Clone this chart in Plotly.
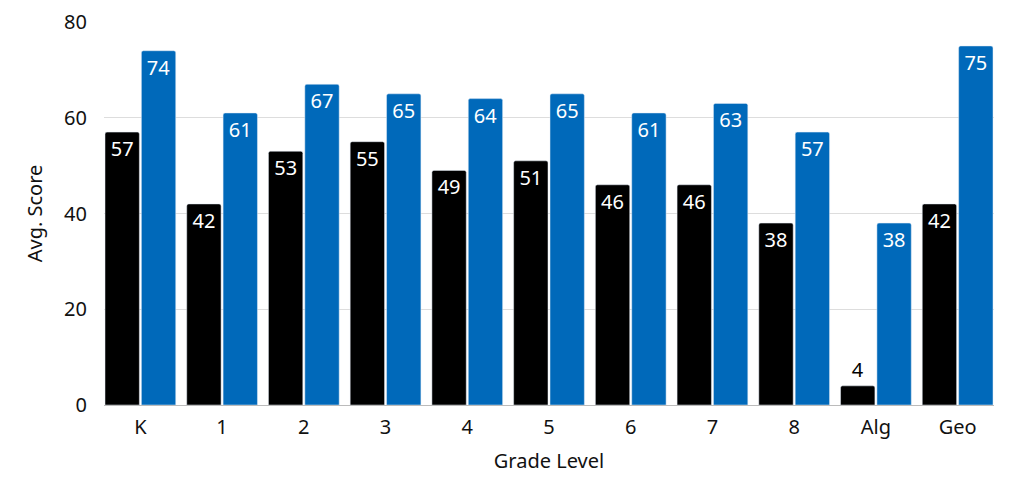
import plotly.graph_objects as go

grades = ["K", "1", "2", "3", "4", "5", "6", "7", "8", "Alg", "Geo"]
score_a = [57, 42, 53, 55, 49, 51, 46, 46, 38, 4, 42]
score_b = [74, 61, 67, 65, 64, 65, 61, 63, 57, 38, 75]

font_name = "Noto Sans"
fsize = 20


def label_pos(vals):
    return ["outside" if v < 10 else "inside" for v in vals]


fig = go.Figure()
fig.add_trace(go.Bar(
    x=grades, y=score_a, name="A",
    marker=dict(color="#000000"),
    text=score_a, textposition=label_pos(score_a),
    insidetextanchor="end",
    insidetextfont=dict(color="white", size=fsize, family=font_name),
    outsidetextfont=dict(color="black", size=fsize, family=font_name),
))
fig.add_trace(go.Bar(
    x=grades, y=score_b, name="B",
    marker=dict(color="#0069BA"),
    text=score_b, textposition=label_pos(score_b),
    insidetextanchor="end",
    insidetextfont=dict(color="white", size=fsize, family=font_name),
    outsidetextfont=dict(color="black", size=fsize, family=font_name),
))

# page body adds 8px around the figure
fig.update_layout(
    width=1016, height=480,
    margin=dict(l=96, r=30, t=14, b=83, autoexpand=False),
    paper_bgcolor="white", plot_bgcolor="white",
    barmode="group", bargap=0.11, bargroupgap=0.055,
    barcornerradius=2,
    showlegend=False,
    font=dict(family=font_name, size=fsize, color="#111111"),
    uniformtext=dict(minsize=fsize, mode="show"),
)
fig.update_xaxes(
    title=dict(text="Grade Level", font=dict(size=fsize), standoff=14),
    range=[-0.445, 10.445],
    showgrid=False, showline=True, linecolor="#BBBBBB", linewidth=1,
    ticks="outside", ticklen=4, tickcolor="white", tickfont=dict(size=fsize),
)
fig.update_yaxes(
    title=dict(text="Avg. Score", font=dict(size=fsize), standoff=16),
    range=[0, 80], dtick=20,
    showgrid=True, gridcolor="#DDDDDD", gridwidth=1,
    zeroline=False, showline=False,
    ticks="outside", ticklen=12, tickcolor="white", tickfont=dict(size=fsize),
)

fig.write_html("out.html")
